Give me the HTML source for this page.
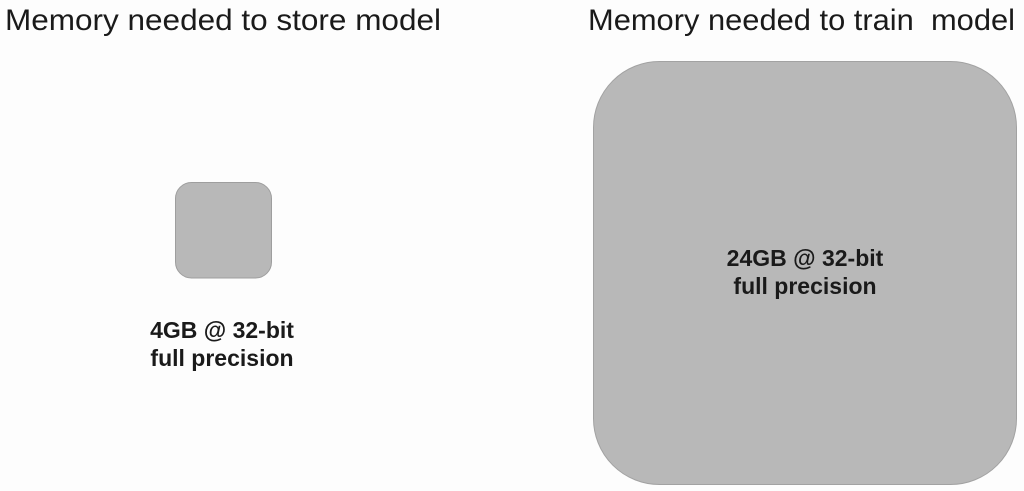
<!DOCTYPE html>
<html>
<head>
<meta charset="utf-8">
<style>
  html, body { margin: 0; padding: 0; background: #fdfdfd; }
  body { width: 1024px; height: 491px; overflow: hidden; }
  svg { display: block; }
  .title { font-family: "Liberation Sans", sans-serif; font-size: 30px; fill: #1a1a1a; }
  .lbl { font-family: "Liberation Sans", sans-serif; font-size: 23px; font-weight: bold; fill: #1a1a1a; }
</style>
</head>
<body>
<svg width="1024" height="491" viewBox="0 0 1024 491" xmlns="http://www.w3.org/2000/svg">
  <rect x="0" y="0" width="1024" height="491" fill="#fdfdfd"/>
  <text class="title" x="5" y="30" textLength="436" lengthAdjust="spacingAndGlyphs">Memory needed to store model</text>
  <text class="title" x="588" y="30" textLength="427" lengthAdjust="spacingAndGlyphs" xml:space="preserve">Memory needed to train  model</text>

  <rect x="175.5" y="182.5" width="96" height="95.5" rx="16" ry="16" fill="#b8b8b8" stroke="#9e9e9e" stroke-width="1"/>
  <text class="lbl" x="222" y="338" text-anchor="middle">4GB @ 32-bit</text>
  <text class="lbl" x="222" y="366" text-anchor="middle">full precision</text>

  <rect x="593.5" y="61.5" width="423" height="423" rx="66" ry="66" fill="#b8b8b8" stroke="#a2a2a2" stroke-width="1"/>
  <text class="lbl" x="805" y="266" text-anchor="middle">24GB @ 32-bit</text>
  <text class="lbl" x="805" y="294" text-anchor="middle">full precision</text>
</svg>
</body>
</html>
